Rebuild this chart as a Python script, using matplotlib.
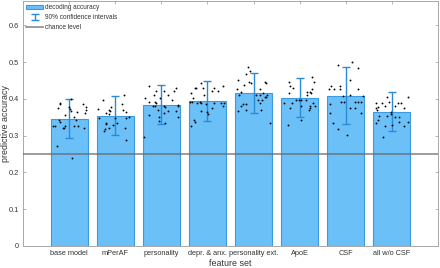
import matplotlib
matplotlib.use("Agg")
import matplotlib.pyplot as plt
import numpy as np

plt.rcParams['font.family'] = ['Liberation Sans', 'DejaVu Sans']

categories = ["base model", "mPerAF", "personality", "depr. & anx.",
              "personality ext.", "ApoE", "CSF", "all w/o CSF"]
accuracy = [0.345, 0.353, 0.383, 0.393, 0.416, 0.403, 0.407, 0.363]
ci_low = [0.294, 0.302, 0.331, 0.340, 0.362, 0.350, 0.331, 0.312]
ci_high = [0.400, 0.408, 0.437, 0.448, 0.471, 0.458, 0.486, 0.418]
chance = 0.25

pts_base = [0.389, 0.385, 0.376, 0.379, 0.373, 0.367, 0.355, 0.364, 0.385, 0.379,
            0.371, 0.361, 0.351, 0.342, 0.342, 0.336, 0.326, 0.326, 0.326, 0.322,
            0.321, 0.326, 0.326, 0.322, 0.272, 0.238, 0.400]
off_base = [-0.20, -0.20, -0.25, -0.01, 0.01, 0.04, -0.09, 0.17, 0.30, 0.36,
            0.36, 0.34, 0.11, 0.14, -0.23, -0.19, -0.34, -0.31, -0.09, -0.14,
            -0.11, 0.11, 0.20, 0.32, -0.27, 0.06, 0.05]
pts_mperaf = [0.410, 0.397, 0.379, 0.385, 0.372, 0.370, 0.367, 0.371, 0.365, 0.361,
              0.359, 0.351, 0.347, 0.347, 0.347, 0.335, 0.332, 0.335, 0.329, 0.322,
              0.322, 0.317, 0.313, 0.288]
off_mperaf = [0.19, -0.26, -0.10, 0.14, -0.37, -0.14, -0.12, 0.17, 0.23, -0.19,
              -0.14, 0.30, -0.35, -0.01, 0.24, -0.20, -0.19, 0.04, -0.04, -0.13,
              0.21, -0.22, -0.24, 0.23]
pts_pers = [0.436, 0.430, 0.421, 0.421, 0.421, 0.410, 0.410, 0.401, 0.401, 0.397,
            0.392, 0.392, 0.389, 0.380, 0.380, 0.380, 0.383, 0.380, 0.377, 0.371,
            0.368, 0.368, 0.361, 0.355, 0.351, 0.350, 0.341, 0.335, 0.297]
off_pers = [-0.26, 0.32, -0.12, 0.06, 0.27, -0.16, 0.14, -0.35, -0.02, 0.23,
            -0.27, -0.14, -0.12, -0.19, -0.14, 0.05, 0.36, 0.36, 0.09, -0.07,
            0.14, 0.32, 0.05, -0.27, 0.36, -0.04, -0.04, 0.09, -0.37]
pts_depr = [0.444, 0.436, 0.430, 0.430, 0.430, 0.430, 0.422, 0.422, 0.415, 0.410,
            0.401, 0.392, 0.392, 0.390, 0.392, 0.390, 0.389, 0.389, 0.389, 0.385,
            0.376, 0.380, 0.368, 0.365, 0.359, 0.342, 0.338, 0.326]
off_depr = [-0.13, 0.34, -0.27, -0.24, -0.09, 0.14, 0.23, 0.10, -0.35, -0.08,
            -0.32, -0.37, -0.33, -0.22, -0.17, -0.15, 0.14, 0.30, 0.35, -0.04,
            0.09, 0.33, -0.15, -0.01, 0.01, -0.30, -0.26, -0.35]
pts_persext = [0.486, 0.477, 0.467, 0.451, 0.447, 0.444, 0.439, 0.447, 0.443, 0.426,
               0.426, 0.418, 0.410, 0.410, 0.410, 0.415, 0.406, 0.410, 0.405, 0.397,
               0.397, 0.388, 0.385, 0.385, 0.380, 0.371, 0.371, 0.367, 0.335]
off_persext = [-0.12, -0.08, -0.17, -0.34, -0.10, -0.05, -0.21, 0.24, 0.26, 0.14,
               -0.35, -0.27, -0.31, 0.06, 0.15, 0.21, 0.26, 0.30, 0.24, 0.10,
               0.19, 0.14, -0.22, -0.17, -0.27, -0.16, 0.17, -0.34, 0.35]
pts_apoe = [0.460, 0.447, 0.447, 0.435, 0.430, 0.415, 0.419, 0.418, 0.426, 0.415,
            0.410, 0.389, 0.389, 0.397, 0.397, 0.397, 0.397, 0.389, 0.376, 0.380,
            0.376, 0.371, 0.380, 0.380, 0.329, 0.342]
off_apoe = [0.27, 0.32, -0.23, -0.20, -0.15, -0.23, 0.16, 0.22, 0.27, 0.25,
            0.16, -0.34, -0.16, -0.07, -0.02, 0.03, 0.13, 0.28, -0.20, 0.03,
            0.22, 0.20, 0.34, 0.23, -0.25, 0.03]
pts_csf = [0.501, 0.492, 0.485, 0.451, 0.435, 0.427, 0.427, 0.435, 0.427, 0.426,
           0.409, 0.410, 0.409, 0.392, 0.392, 0.392, 0.392, 0.392, 0.385, 0.376,
           0.376, 0.361, 0.361, 0.335, 0.318, 0.302]
off_csf = [0.14, -0.16, 0.26, 0.10, -0.33, -0.36, -0.25, -0.13, -0.13, 0.27,
           -0.06, 0.10, 0.37, -0.11, -0.04, 0.21, 0.27, 0.34, -0.34, 0.10,
           0.20, -0.35, 0.34, -0.28, -0.17, 0.03]
pts_all = [0.404, 0.406, 0.389, 0.389, 0.392, 0.389, 0.389, 0.380, 0.380, 0.376,
           0.379, 0.371, 0.374, 0.365, 0.359, 0.354, 0.353, 0.351, 0.351, 0.338,
           0.342, 0.335, 0.338, 0.326, 0.326, 0.329, 0.295]
off_all = [0.35, -0.10, -0.35, -0.22, -0.07, 0.13, 0.19, -0.15, 0.06, 0.26,
           -0.30, -0.32, -0.34, -0.03, -0.01, -0.28, -0.10, 0.06, 0.16, 0.35,
           -0.30, -0.34, 0.15, -0.15, 0.26, 0.00, -0.19]

points = [pts_base, pts_mperaf, pts_pers, pts_depr, pts_persext, pts_apoe, pts_csf, pts_all]
offsets = [off_base, off_mperaf, off_pers, off_depr, off_persext, off_apoe, off_csf, off_all]

yticks = [0, 0.1, 0.2, 0.3, 0.4, 0.5, 0.6]

bar_face = '#6cc0f8'
bar_edge = '#3a9be2'
err_col = '#2a8ad6'
spine_col = '#a8a8a8'
text_col = '#333333'

fig = plt.figure(figsize=(4.4, 2.68), dpi=100)
ax = fig.add_axes([23 / 440, 22 / 268, 415 / 440, 245 / 268])

x = np.arange(1, len(categories) + 1)
bars = ax.bar(x, accuracy, width=0.8, color=bar_face, edgecolor=bar_edge,
              linewidth=0.8, zorder=2, label='decoding accuracy')
acc = np.array(accuracy)
yerr = np.vstack([acc - np.array(ci_low), np.array(ci_high) - acc])
eb = ax.errorbar(x, acc, yerr=yerr, fmt='none', ecolor=err_col, elinewidth=1.0,
                 capsize=2.6, capthick=1.0, zorder=4, label='90% confidence intervals')
for i, (p, o) in enumerate(zip(points, offsets)):
    ax.scatter(x[i] + np.array(o), p, s=1.8, color='black', linewidths=0, zorder=5)
ln = ax.axhline(chance, color='#666666', linewidth=1.2, alpha=0.75, zorder=3,
                label='chance level')

ax.set_xlim(0, 9)
ax.set_ylim(0, 0.666)
ax.set_xticks(x)
ax.set_xticklabels(categories)
ax.set_yticks(yticks)
ax.set_yticklabels([f"{t:g}" for t in yticks])
ax.tick_params(direction='in', length=2.5, width=0.6, colors=spine_col,
               labelcolor=text_col, labelsize=5.3, top=True, right=True, pad=3)
for s in ax.spines.values():
    s.set_color(spine_col)
    s.set_linewidth(0.7)
ax.set_xlabel('feature set', fontsize=6.4, color=text_col, labelpad=1.5)
ax.set_ylabel('predictive accuracy', fontsize=6.4, color=text_col)
ax.yaxis.set_label_coords(-0.043, 0.5)
ax.yaxis.label.set_verticalalignment('center')

leg = ax.legend(handles=[bars, eb, ln], loc='upper left', frameon=False,
                fontsize=4.7, borderaxespad=0.3, handlelength=2.6, handletextpad=0.3,
                labelspacing=0.45, borderpad=0.2)
for t in leg.get_texts():
    t.set_color(text_col)

fig.savefig('out.png', dpi=100)
